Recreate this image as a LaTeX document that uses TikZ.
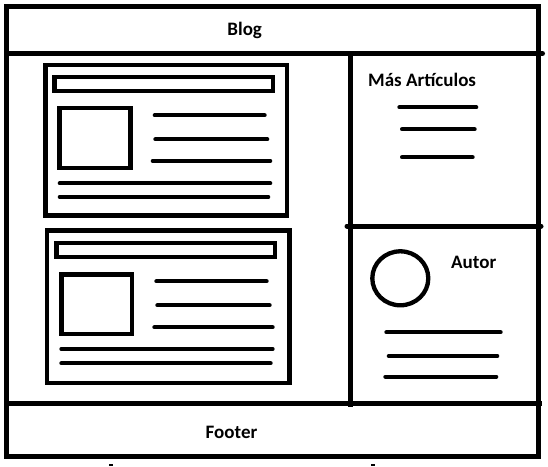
\documentclass[tikz,border=0pt]{standalone}
\usepackage{fontspec}
\setmainfont{Carlito}
\begin{document}
\begin{tikzpicture}[x=1pt,y=-1pt,
  frame/.style={line width=5pt},
  box/.style={line width=4.3pt},
  textline/.style={line width=4pt,line cap=round},
  label/.style={inner sep=0pt,anchor=base,font=\bfseries\fontsize{19}{22}\selectfont}]
\useasboundingbox[fill=white] (0,0) rectangle (548,466);

% page frame and section dividers
\draw[frame] (6.5,6.5) rectangle (538.3,456);
\draw[frame,line cap=round] (6.5,53.5) -- (542.5,53.5);
\draw[frame] (6.5,403.3) -- (542,403.3);
\draw[frame] (350.5,53.5) -- (350.5,407);
\draw[frame,line cap=round] (347,226) -- (541,226);

% header and footer titles
\node[label] (blog) at (244.7,35.7) {Blog};
\node[label] (footer) at (231.5,438) {Footer};

% first post card
\draw[box] (45.5,64.7) rectangle (287,215.5);
\draw[box] (54.5,77) rectangle (273,91);
\draw[box] (59.5,108.3) rectangle (130.5,168);
\draw[textline] (154.7,115.3) -- (264.7,115.3);
\draw[textline] (155.3,139.3) -- (267.3,139.3);
\draw[textline] (152.7,161) -- (270.3,161);
\draw[textline] (59.7,183.3) -- (270.3,183.3);
\draw[textline] (59.7,197) -- (268.3,197);

% second post card
\draw[box] (47,230.5) rectangle (289.5,383);
\draw[box] (56.5,243.3) rectangle (275.3,257);
\draw[box] (61.5,274.5) rectangle (132.3,334.3);
\draw[textline] (156.3,281.3) -- (266.7,281.3);
\draw[textline] (157.3,305.3) -- (269.7,305.3);
\draw[textline] (154.3,327.3) -- (272.7,327.3);
\draw[textline] (61.3,349) -- (272.7,349);
\draw[textline] (61.3,363.3) -- (270.7,363.3);

% more articles panel
\node[label,anchor=base west] (mas) at (368,86) {Más Artículos};
\draw[textline] (399.3,107.3) -- (476.3,107.3);
\draw[textline] (402,129.3) -- (474.7,129.3);
\draw[textline] (402,157.3) -- (472.7,157.3);

% author panel
\draw[box] (400.3,278.3) ellipse [x radius=28,y radius=27];
\node[label,anchor=base west] (autor) at (451,268.3) {Autor};
\draw[textline] (386.3,332.3) -- (500.7,332.3);
\draw[textline] (388.7,356) -- (497.3,356);
\draw[textline] (385.3,376.7) -- (496.3,376.7);

% stray ticks along the bottom edge
\fill (109,464.3) rectangle (113.3,466);
\fill (370.7,464.3) rectangle (375,466);
\end{tikzpicture}
\end{document}
